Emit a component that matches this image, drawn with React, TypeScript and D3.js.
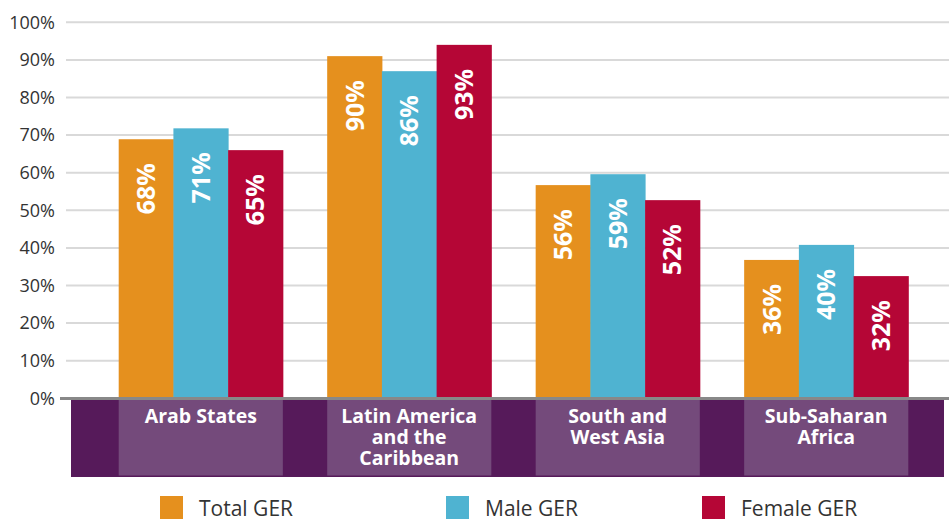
import React from "react";
import * as d3 from "d3";

const categories = ["Arab States", "Latin America and the Caribbean", "South and West Asia", "Sub-Saharan Africa"];
const categoryLines = [["Arab States"], ["Latin America", "and the", "Caribbean"], ["South and", "West Asia"], ["Sub-Saharan", "Africa"]];
const seriesNames = ["Total GER", "Male GER", "Female GER"];
const seriesColors = ["#e5901e", "#4fb3d1", "#b50636"];
// bar heights
const totalGER = [68.9, 91.0, 56.7, 36.8];
const maleGER = [71.8, 87.0, 59.6, 40.8];
const femaleGER = [66.0, 94.0, 52.7, 32.5];
// printed labels
const totalLabels = ["68%", "90%", "56%", "36%"];
const maleLabels = ["71%", "86%", "59%", "40%"];
const femaleLabels = ["65%", "93%", "52%", "32%"];
const yTicks = [0, 10, 20, 30, 40, 50, 60, 70, 80, 90, 100];

const W = 949;
const H = 521;

export default function App() {
  const series = [totalGER, maleGER, femaleGER];
  const labels = [totalLabels, maleLabels, femaleLabels];

  const y = d3.scaleLinear().domain([0, 100]).range([398.3, 22.3]);
  const x = d3.scaleBand().domain(categories).range([77, 950]).paddingInner(0.2127).paddingOuter(0.2);
  const xs = d3.scaleBand().domain(seriesNames).range([0, x.bandwidth()]);

  const font = "'Open Sans', 'Noto Sans', sans-serif";
  const bandTop = 400;
  const bandBottom = 477;

  return (
    <svg width={W} height={H} style={{ position: "absolute", left: 0, top: 0, background: "#fff" }} fontFamily={font}>
      {/* gridlines */}
      {yTicks.slice(1).map((t) => (
        <line key={t} x1={66} x2={W} y1={y(t)} y2={y(t)} stroke="#d9d9d9" strokeWidth={2} />
      ))}
      {yTicks.map((t) => (
        <text key={"l" + t} x={55} y={y(t)} dy="0.35em" textAnchor="end" fontSize={18} fill="#333">
          {t}%
        </text>
      ))}
      {/* category band */}
      <rect x={71} y={bandTop} width={944 - 71} height={bandBottom - bandTop} fill="#561a5a" />
      {categories.map((c, i) => {
        const cx = (x(c) as number) + x.bandwidth() / 2;
        return (
          <g key={c}>
            <rect x={x(c)} y={bandTop} width={x.bandwidth()} height={bandBottom - bandTop - 1.5} fill="#744a7b" />
            <text x={cx} y={423} textAnchor="middle" fontSize={19.5} fontWeight="bold" fill="#fff">
              {categoryLines[i].map((ln, j) => (
                <tspan key={j} x={cx} dy={j === 0 ? 0 : 21}>
                  {ln}
                </tspan>
              ))}
            </text>
          </g>
        );
      })}
      {/* bars */}
      {categories.map((c, i) => (
        <g key={"b" + c} transform={`translate(${x(c)},0)`}>
          {seriesNames.map((s, k) => {
            const v = series[k][i];
            const bx = xs(s) as number;
            const cx = bx + xs.bandwidth() / 2;
            const ty = y(v) + 24;
            return (
              <g key={s}>
                <rect x={bx} y={y(v)} width={xs.bandwidth() + 0.5} height={y(0) - y(v)} fill={seriesColors[k]} />
                <text
                  transform={`translate(${cx},${ty}) rotate(-90)`}
                  textAnchor="end"
                  dy="0.36em"
                  fontSize={25}
                  fontWeight="bold"
                  fill="#fff"
                >
                  {labels[k][i]}
                </text>
              </g>
            );
          })}
        </g>
      ))}
      {/* zero axis */}
      <line x1={60} x2={W} y1={398.5} y2={398.5} stroke="#888" strokeWidth={3} />
      {/* legend */}
      {seriesNames.map((s, k) => {
        const lx = [160, 446, 702][k];
        return (
          <g key={"lg" + s}>
            <rect x={lx} y={496} width={23} height={23} fill={seriesColors[k]} />
            <text x={lx + 39} y={508} dy="0.36em" fontSize={21} fill="#333">
              {s}
            </text>
          </g>
        );
      })}
    </svg>
  );
}
